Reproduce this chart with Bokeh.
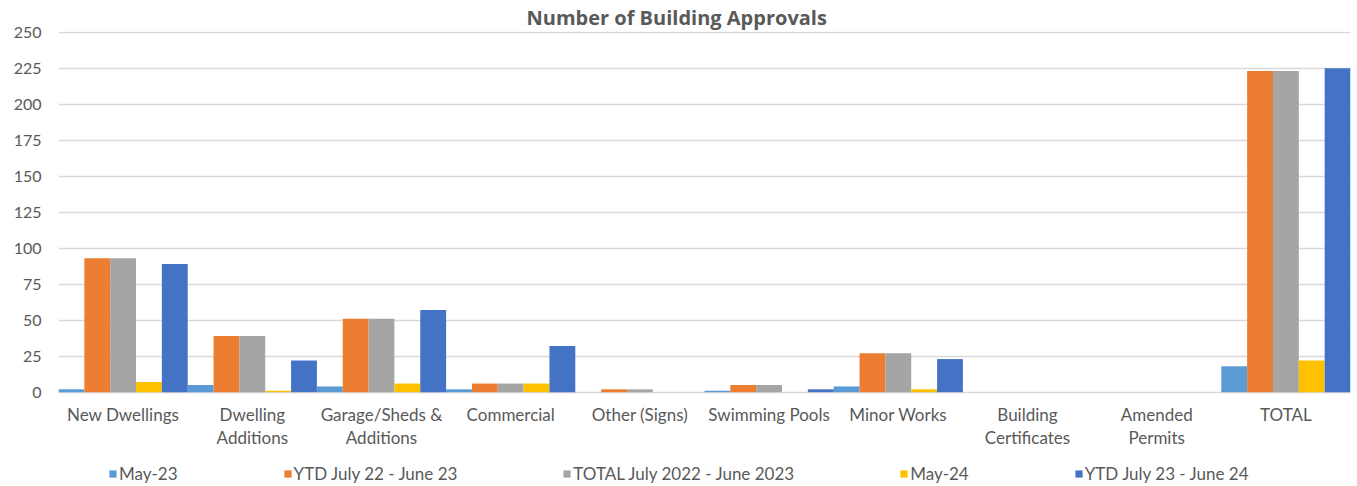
from bokeh.plotting import figure
from bokeh.models import ColumnDataSource, FactorRange, Range1d, Legend, LegendItem, FixedTicker
from bokeh.core.properties import value
from bokeh.transform import dodge
from bokeh.embed import file_html
from bokeh.resources import INLINE

categories = ["New Dwellings", "Dwelling\nAdditions", "Garage/Sheds &\nAdditions", "Commercial",
              "Other (Signs)", "Swimming Pools", "Minor Works", "Building\nCertificates",
              "Amended\nPermits", "TOTAL"]
may23 = [2, 5, 4, 2, 0, 1, 4, 0, 0, 18]
ytd_22_23 = [93, 39, 51, 6, 2, 5, 27, 0, 0, 223]
total_22_23 = [93, 39, 51, 6, 2, 5, 27, 0, 0, 223]
may24 = [7, 1, 6, 6, 0, 0, 2, 0, 0, 22]
ytd_23_24 = [89, 22, 57, 32, 0, 2, 23, 0, 0, 225]
y_ticks = [0, 25, 50, 75, 100, 125, 150, 175, 200, 225, 250]

series_names = ["May-23", "YTD July 22 - June 23", "TOTAL July 2022 - June 2023", "May-24", "YTD July 23 - June 24"]
series_keys = ["may23", "ytd2223", "tot2223", "may24", "ytd2324"]
colors = ["#5B9BD5", "#ED7D31", "#A5A5A5", "#FFC000", "#4472C4"]

LABEL_Y = -8  # position of category labels just below the baseline

source = ColumnDataSource(data=dict(cat=categories, may23=may23, ytd2223=ytd_22_23,
                                    tot2223=total_22_23, may24=may24, ytd2324=ytd_23_24,
                                    label_y=[LABEL_Y] * len(categories)))

FONT = "Lato"
TXT = "#595959"

p = figure(width=1354, height=486, output_backend="svg", toolbar_location=None,
           x_range=FactorRange(*categories), y_range=Range1d(-65.5, 250.5),
           title="Number of Building Approvals", min_border_left=58, min_border_right=4,
           min_border_top=7, min_border_bottom=0)

p.title.align = "left"
p.title.offset = 468
p.title.text_font = "Open Sans"
p.title.text_font_size = "20px"
p.title.text_font_style = "bold"
p.title.text_color = TXT
p.title.standoff = 2

items = []
offsets = [-0.4, -0.2, 0.0, 0.2, 0.4]
for key, name, col, off in zip(series_keys, series_names, colors, offsets):
    r = p.vbar(x=dodge("cat", off, range=p.x_range), top=key, width=0.2, bottom=0,
               source=source, fill_color=col, line_color=None)
    items.append(LegendItem(label=name, renderers=[r]))

# category labels under the baseline
p.text(x="cat", y="label_y", text="cat", source=source, text_align="center",
       text_baseline="top", text_font=value(FONT), text_font_size="17px",
       text_color=TXT, text_line_height=1.13)

p.outline_line_color = None
p.xgrid.grid_line_color = None
p.xaxis.visible = False
p.ygrid.grid_line_color = "#d9d9d9"
p.ygrid.grid_line_width = 1.5
p.ygrid.ticker = FixedTicker(ticks=y_ticks)
p.yaxis.ticker = FixedTicker(ticks=y_ticks)
p.yaxis.axis_line_color = None
p.yaxis.major_tick_line_color = None
p.yaxis.minor_tick_line_color = None
p.yaxis.major_tick_out = 0
p.yaxis.major_label_text_font = FONT
p.yaxis.major_label_text_font_size = "16px"
p.yaxis.major_label_text_color = TXT
p.yaxis.major_label_standoff = 17

legend = Legend(items=items, orientation="horizontal", location=(50, 2),
                spacing=105, label_standoff=2, glyph_width=9, glyph_height=9,
                label_text_font=FONT, label_text_font_size="17px", label_text_color=TXT,
                border_line_color=None, background_fill_alpha=0, padding=0, margin=0)
p.add_layout(legend, "center")

open("out.html", "w").write(file_html(p, INLINE))
